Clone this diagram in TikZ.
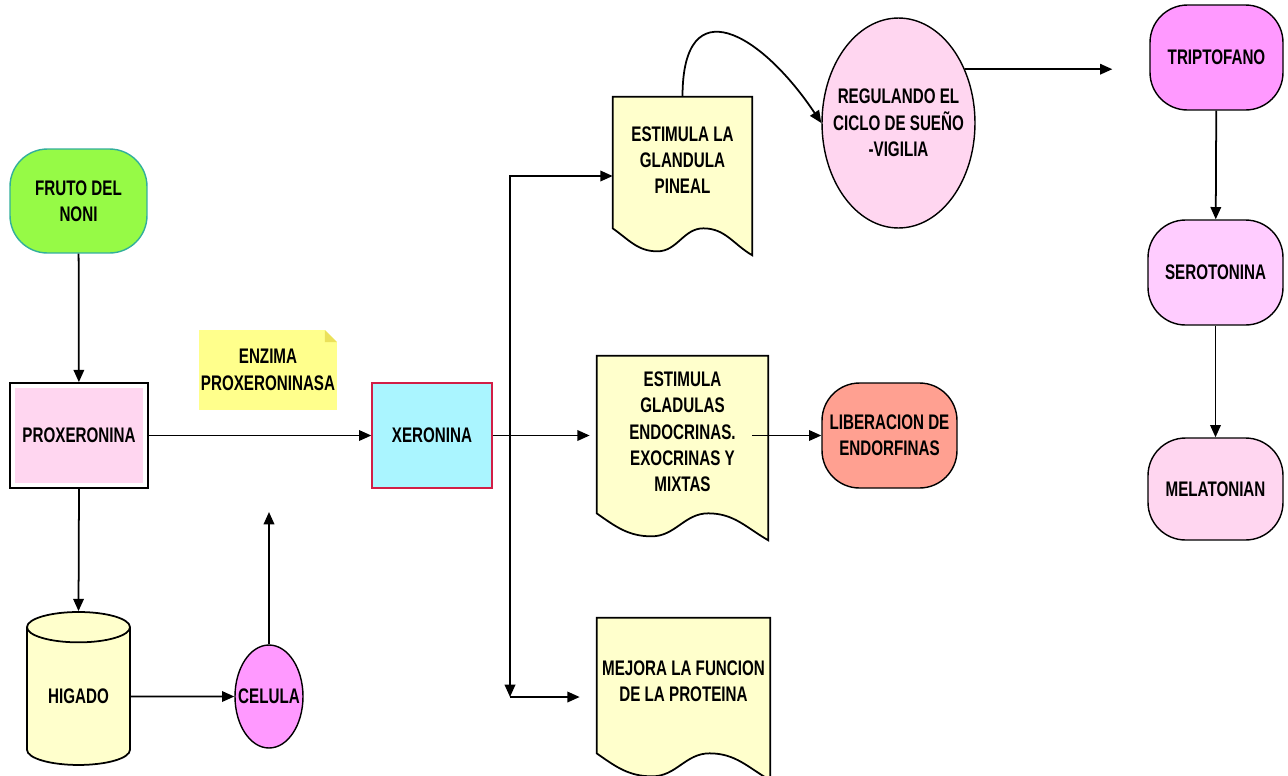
\documentclass[tikz,border=0pt]{standalone}
\usepackage{fontspec}
\newfontfamily\diagfont{Liberation Sans}[FakeStretch=0.72]
\usetikzlibrary{calc}
\usetikzlibrary{arrows.meta}
\usetikzlibrary{shapes.geometric}

\definecolor{frutoverde}{RGB}{150,250,70}
\definecolor{frutoborde}{RGB}{50,175,155}
\definecolor{proxrosa}{RGB}{255,214,240}
\definecolor{notaamarillo}{RGB}{255,255,140}
\definecolor{notadoblez}{RGB}{235,225,90}
\definecolor{xercian}{RGB}{170,245,255}
\definecolor{xerborde}{RGB}{210,30,70}
\definecolor{docamarillo}{RGB}{255,255,204}
\definecolor{salmon}{RGB}{255,160,145}
\definecolor{magenta}{RGB}{255,153,255}
\definecolor{serorosa}{RGB}{255,204,255}

\tikzset{
  every node/.style={font=\diagfont\bfseries\fontsize{12}{15}\selectfont, align=center},
  flecha/.style={line width=1pt, -{Triangle[length=7pt,width=6pt]}},
  redondo/.style={draw, line width=0.8pt, rounded corners=0.75cm, inner sep=0pt},
  caja/.style={draw, line width=1pt, fill=white, inner sep=0pt,
    path picture={\fill[proxrosa] ([shift={(3pt,3pt)}]path picture bounding box.south west)
      rectangle ([shift={(-3pt,-3pt)}]path picture bounding box.north east);}},
  nota/.style={fill=notaamarillo, inner sep=0pt,
    path picture={\fill[white] ([xshift=-0.24cm]path picture bounding box.north east)
      -- (path picture bounding box.north east) -- ([yshift=-0.24cm]path picture bounding box.north east) -- cycle;
      \fill[notadoblez] ([xshift=-0.24cm]path picture bounding box.north east)
      -- ([shift={(-0.24cm,-0.24cm)}]path picture bounding box.north east)
      -- ([yshift=-0.24cm]path picture bounding box.north east) -- cycle;}},
  docbox/.style={inner sep=0pt},
  elipse/.style={ellipse, draw, line width=0.8pt, inner sep=0pt},
}

% hoja con borde ondulado
\newcommand{\docpath}[1]{%
  \draw[line width=1pt, fill=docamarillo] (#1.north west) -- (#1.north east) -- (#1.south east)
    to[out=150,in=0] ($(#1.south east)!0.35!(#1.south west)+(0,27)$)
    to[out=180,in=0] ($(#1.south east)!0.68!(#1.south west)+(0,4)$)
    to[out=180,in=-35] ($(#1.south west)+(0,27)$) -- cycle;}

\begin{document}
\begin{tikzpicture}[x=0.02cm,y=0.02cm]
\clip (0,0) rectangle (1288,-775);
% columna izquierda
\node[redondo, fill=frutoverde, draw=frutoborde, minimum width=2.74cm, minimum height=2.08cm] (fruto) at (78.5,-201) {FRUTO DEL\\NONI};
\node[caja, minimum width=2.76cm, minimum height=2.1cm] (prox) at (79,-435.5) {PROXERONINA};
\node[nota, minimum width=2.76cm, minimum height=1.6cm] (enzima) at (268,-370) {ENZIMA\\PROXERONINASA};
\node[cylinder, shape border rotate=90, aspect=0.5, draw, line width=1pt, fill=docamarillo,
  minimum width=2.06cm, minimum height=3.06cm, inner sep=0pt] (higado) at (78.5,-696.5) {HIGADO};
\node[elipse, fill=magenta, minimum width=1.36cm, minimum height=2.06cm,
  label={[name=celtxt]center:CELULA}] (celula) at (269,-696.5) {};
\node[draw=xerborde, fill=xercian, line width=0.8pt, minimum width=2.4cm, minimum height=2.1cm] (xer) at (432,-435.5) {XERONINA};
% hojas
\node[docbox, minimum width=2.78cm, minimum height=3.16cm] (pin) at (682.5,-176) {};
\docpath{pin}
\node (pintxt) at ($(pin.center)+(0,16)$) {ESTIMULA LA\\GLANDULA\\PINEAL};
\node[docbox, minimum width=3.42cm, minimum height=3.68cm] (glan) at (682.5,-448) {};
\docpath{glan}
\node (glantxt) at ($(glan.center)+(0,16)$) {ESTIMULA\\GLADULAS\\ENDOCRINAS.\\EXOCRINAS Y\\MIXTAS};
\node[docbox, minimum width=3.46cm, minimum height=3.24cm] (mej) at (683.5,-699) {};
\docpath{mej}
\node (mejtxt) at ($(mej.center)+(0,18)$) {MEJORA LA FUNCION\\DE LA PROTEINA};
% derecha
\node[elipse, fill=proxrosa, minimum width=3.06cm, minimum height=4.2cm,
  label={[name=regtxt]center:REGULANDO EL\\CICLO DE SUEÑO\\-VIGILIA}] (regul) at (898.5,-123) {};
\node[redondo, fill=salmon, minimum width=2.7cm, minimum height=2.1cm] (liber) at (889.5,-435.5) {LIBERACION DE\\ENDORFINAS};
\node[redondo, fill=magenta, minimum width=2.66cm, minimum height=2.1cm] (trip) at (1216.5,-57.5) {TRIPTOFANO};
\node[redondo, fill=serorosa, minimum width=2.7cm, minimum height=2.1cm] (sero) at (1215.5,-272.5) {SEROTONINA};
\node[redondo, fill=proxrosa, minimum width=2.7cm, minimum height=2.04cm] (mela) at (1215.5,-489) {MELATONIAN};
% flechas
\coordinate (celarriba) at (269,-512);
\coordinate (rama) at (510,-435.5);
\coordinate (ramabajo) at (510,-697);
\draw[flecha] (fruto) -- (prox);
\draw[flecha] (prox) -- (xer);
\draw[flecha] (prox.south) -- (higado.north);
\draw[flecha] (higado) -- (celula);
\draw[flecha] (celula) -- (celarriba);
\draw[flecha, shorten >=0.14cm] (xer) -- (xer -| glan.west);
\draw[flecha] (rama) |- (pin);
\draw[flecha] (rama) -- (ramabajo);
\draw[flecha, shorten >=0.34cm] (ramabajo) -- (mej.west |- ramabajo);
\draw[flecha] (pin.north) .. controls +(0,110) and +(-60,90) .. (regul.west);
\draw[flecha, shorten >=0.74cm] (regul.39) -- (regul.39 -| trip.west);
\draw[flecha] (trip) -- (sero);
\draw[flecha] (sero) -- (mela);
\draw[flecha] ([xshift=-0.32cm]glan.east |- liber) -- (liber);
\end{tikzpicture}
\end{document}
